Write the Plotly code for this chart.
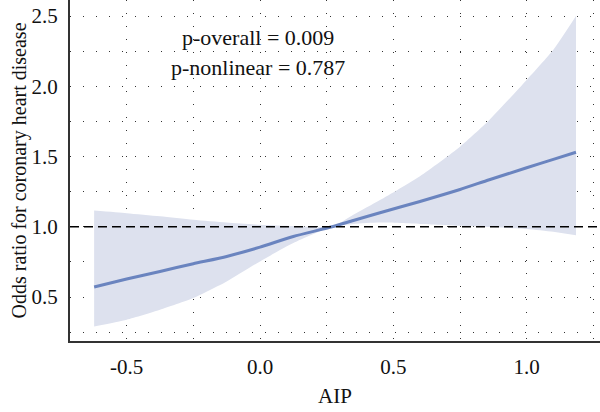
import plotly.graph_objects as go

# Data
x_vals = [-0.622, -0.5, -0.375, -0.25, -0.125, 0.0, 0.125, 0.27, 0.35, 0.45, 0.6, 0.75, 0.86, 1.0, 1.1, 1.185]
or_vals = [0.571, 0.628, 0.682, 0.737, 0.789, 0.855, 0.931, 1.0, 1.045, 1.10, 1.18, 1.265, 1.335, 1.42, 1.48, 1.53]
upper_vals = [1.116, 1.097, 1.075, 1.05, 1.03, 1.014, 1.005, 1.0, 1.085, 1.19, 1.36, 1.57, 1.76, 2.045, 2.26, 2.50]
lower_vals = [0.291, 0.339, 0.41, 0.493, 0.611, 0.753, 0.884, 1.0, 1.02, 1.03, 1.02, 1.007, 0.998, 0.985, 0.965, 0.94]

x_ticks = [-0.5, 0.0, 0.5, 1.0]
x_ticktext = ["-0.5", "0.0", "0.5", "1.0"]
y_ticks = [0.5, 1.0, 1.5, 2.0, 2.5]
y_ticktext = ["0.5", "1.0", "1.5", "2.0", "2.5"]

FONT = "Liberation Serif"
LINE_C = "#6a84bf"
BAND_C = "#dde1ee"
GRID = "#333333"

fig = go.Figure()
fig.add_trace(go.Scatter(x=x_vals, y=lower_vals, mode="lines",
                         line=dict(width=0, color=BAND_C, shape="spline", smoothing=0.6),
                         hoverinfo="skip", showlegend=False))
fig.add_trace(go.Scatter(x=x_vals, y=upper_vals, mode="lines", fill="tonexty", fillcolor=BAND_C,
                         line=dict(width=0, color=BAND_C, shape="spline", smoothing=0.6),
                         hoverinfo="skip", showlegend=False))
fig.add_trace(go.Scatter(x=x_vals, y=or_vals, mode="lines",
                         line=dict(color=LINE_C, width=3, shape="spline", smoothing=0.6), showlegend=False))

fig.add_shape(type="line", xref="paper", x0=0, x1=1, yref="y", y0=1.0, y1=1.0,
              line=dict(color="black", width=1.5, dash="9px,5px"), layer="above")

fig.add_annotation(xref="paper", yref="paper", x=(258 - 70) / 530, y=1 - 37 / 341,
                   text="p-overall = 0.009", showarrow=False,
                   font=dict(family=FONT, size=22, color="#111"), xanchor="center", yanchor="middle")
fig.add_annotation(xref="paper", yref="paper", x=(258 - 70) / 530, y=1 - 67 / 341,
                   text="p-nonlinear = 0.787", showarrow=False,
                   font=dict(family=FONT, size=22, color="#111"), xanchor="center", yanchor="middle")

fig.update_layout(
    width=600, height=412,
    margin=dict(l=70, r=0, t=0, b=71),
    paper_bgcolor="white", plot_bgcolor="white",
    font=dict(family=FONT, size=21, color="#111"),
    xaxis=dict(range=[-0.7125, 1.275], tickvals=x_ticks, ticktext=x_ticktext,
               showline=True, linecolor="#333", linewidth=2, ticks="", ticklabelstandoff=6,
               showgrid=True, gridcolor=GRID, gridwidth=1, griddash="1px,12px", zeroline=False,
               minor=dict(dtick=0.25, tick0=0, showgrid=True, gridcolor=GRID, gridwidth=1, griddash="1px,12px"),
               title=dict(text="AIP", font=dict(family=FONT, size=21), standoff=10)),
    yaxis=dict(range=[0.187, 2.614], tickvals=y_ticks, ticktext=y_ticktext,
               showline=True, linecolor="#333", linewidth=2, ticks="", ticklabelstandoff=6,
               showgrid=True, gridcolor=GRID, gridwidth=1, griddash="1px,12px", zeroline=False,
               minor=dict(dtick=0.25, tick0=0, showgrid=True, gridcolor=GRID, gridwidth=1, griddash="1px,12px"),
               title=dict(text="Odds ratio for coronary heart disease", font=dict(family=FONT, size=20), standoff=0)),
)

fig.write_html("out.html")
